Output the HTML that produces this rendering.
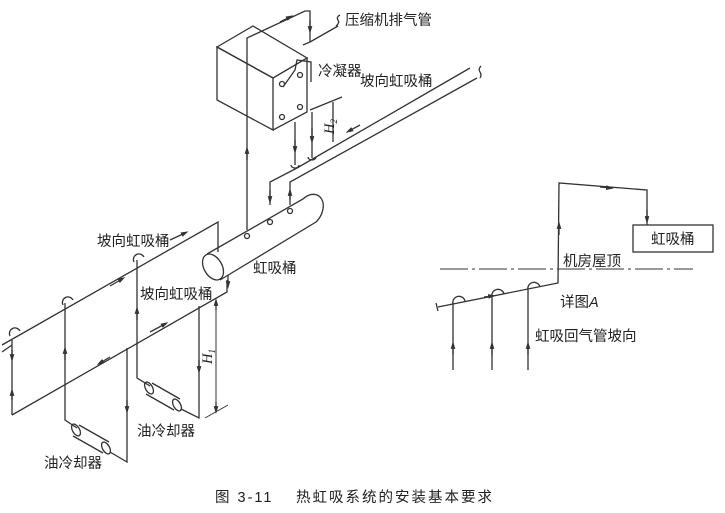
<!DOCTYPE html>
<html><head><meta charset="utf-8"><style>
html,body{margin:0;padding:0;background:#fff;}
svg{display:block;}
text{font-family:"Liberation Sans","Noto Sans CJK SC",sans-serif;font-size:14.5px;fill:#222;}
</style></head><body>
<svg width="725" height="513" viewBox="0 0 725 513" xmlns="http://www.w3.org/2000/svg">
<defs>
<marker id="a" viewBox="0 0 10 10" refX="5" refY="5" markerWidth="6" markerHeight="6" orient="auto"><path d="M0,2 L10,5 L0,8z" fill="#333"/></marker>
</defs>
<g stroke="#333" stroke-width="1.3" fill="none">
<path d="M217,47 L253,26 L307,58 L273,78 Z" fill="#fff"/>
<path d="M217,47 L273,78 L273,130 L217,100 Z"/>
<path d="M273,78 L307,58 L307,112 L273,130"/>
<circle cx="282" cy="84" r="2.5"/><circle cx="300" cy="75" r="2.5"/>
<circle cx="282" cy="117" r="2.5"/><circle cx="300" cy="107" r="2.5"/>
<path d="M283,87 L295,70 L297,60 L311,62 L311,82"/>
<path d="M247,230 L247,38 L305,11 L310,11 L310,42 L303,45"/>
<path d="M247,160 L247,150" marker-end="url(#a)"/>
<path d="M280,22 L290,17" marker-end="url(#a)"/>
<path d="M310,20 L310,30" marker-end="url(#a)"/>
<path d="M310,42 L338,26"/><path d="M336,26 q4,-3 2,-6 q-2,-3 2,-5"/>
<path d="M470,68 L297,168 L270,182 L270,205"/>
<path d="M477,78 L290,182 L290,205"/>
<path d="M270,190 L270,200" marker-end="url(#a)"/>
<path d="M290,200 L290,192" marker-end="url(#a)"/>
<path d="M480,78 q2,-3 0,-6 q-2,-3 1,-6"/>
<path d="M360,125 L349,131" marker-end="url(#a)"/>
<path d="M310,110 L342,97"/>
<path d="M295,122 L295,165"/><path d="M312,112 L312,158"/>
<path d="M295,140 L295,150" marker-end="url(#a)"/>
<path d="M312,128 L312,140" marker-end="url(#a)"/>
<path d="M333,102 L333,142"/>
<path d="M291,165 a4,3 0 0 0 8,0"/><path d="M308,157 a4,3 0 0 0 8,0"/>
<path d="M207,254 L303,199 A10,14 30 0 1 316,222 L220,280" fill="#fff"/>
<ellipse cx="213" cy="267" rx="9" ry="14" transform="rotate(-30 213 267)" fill="#fff"/>
<circle cx="247" cy="236" r="2.5"/><circle cx="270" cy="222" r="2.5"/><circle cx="290" cy="211" r="2.5"/>
<path d="M2,345 L218,222 L218,252"/>
<path d="M2,352 L12,345"/>
<path d="M110,286 L122,279" marker-end="url(#a)"/>
<path d="M170,240 L185,233" marker-end="url(#a)"/>
<path d="M10,336 a5,5 0 0 1 10,-5"/><path d="M63,305 a5,5 0 0 1 10,-5"/><path d="M134,262 a5,5 0 0 1 10,-5"/>
<path d="M12,415 L227,292 L227,280"/>
<path d="M228,275 L228,285" marker-end="url(#a)"/>
<path d="M150,332 L165,324" marker-end="url(#a)"/>
<path d="M110,357 L100,363" marker-end="url(#a)"/>
<path d="M12,415 L12,340"/>
<path d="M12,350 L12,358" marker-end="url(#a)"/>
<path d="M12,400 L12,392" marker-end="url(#a)"/>
<path d="M65,303 L65,420 L77,428"/>
<path d="M65,360 L65,350" marker-end="url(#a)"/>
<path d="M79,425 L109,442 M73,436 L103,453"/>
<ellipse cx="76" cy="430" rx="3.5" ry="6.5" transform="rotate(-30 76 430)"/>
<ellipse cx="106" cy="448" rx="3.5" ry="6.5" transform="rotate(-30 106 448)"/>
<path d="M110,452 L127,462 L127,348"/>
<path d="M127,400 L127,410" marker-end="url(#a)"/>
<path d="M137,260 L137,378 L150,386"/>
<path d="M137,320 L137,310" marker-end="url(#a)"/>
<path d="M152,383 L180,399 M146,394 L174,410"/>
<ellipse cx="149" cy="388" rx="3.5" ry="6.5" transform="rotate(-30 149 388)"/>
<ellipse cx="177" cy="405" rx="3.5" ry="6.5" transform="rotate(-30 177 405)"/>
<path d="M181,409 L199,418 L199,306"/>
<path d="M199,360 L199,370" marker-end="url(#a)"/>
<path d="M216,302 L216,410" stroke-width="1"/>
<path d="M216,310 L216,302" marker-end="url(#a)"/>
<path d="M216,402 L216,410" marker-end="url(#a)"/>
<path d="M205,418 L228,405" stroke-width="1"/>
<path d="M440,269 L693,269" stroke-dasharray="28,4,3,4" stroke-width="1"/>
<path d="M438,307 L558,283 L559,183 L647,190 L647,225"/>
<path d="M436,303 L438,311"/>
<path d="M559,235 L559,225" marker-end="url(#a)"/>
<path d="M600,187 L610,188" marker-end="url(#a)"/>
<path d="M647,210 L647,220" marker-end="url(#a)"/>
<path d="M484,297 L492,296" marker-end="url(#a)"/>
<rect x="633" y="225" width="80" height="27"/>
<path d="M453,370 L453,304 a6,6 0 0 1 12,-3"/>
<path d="M492,370 L492,297 a6,6 0 0 1 12,-3"/>
<path d="M528,370 L528,290 a6,6 0 0 1 12,-3"/>
<path d="M453,355 L453,345" marker-end="url(#a)"/>
<path d="M492,355 L492,345" marker-end="url(#a)"/>
<path d="M528,355 L528,345" marker-end="url(#a)"/>
</g>
<text x="345" y="25">压缩机排气管</text>
<text x="318" y="76">冷凝器</text>
<text x="360" y="86">坡向虹吸桶</text>
<text transform="translate(334,134) rotate(-90)" font-style="italic" style="font-family:'Liberation Serif',serif">H<tspan font-size="9" dy="3">2</tspan></text>
<text x="97" y="246">坡向虹吸桶</text>
<text x="253" y="273">虹吸桶</text>
<text x="140" y="299">坡向虹吸桶</text>
<text transform="translate(212,364) rotate(-90)" font-style="italic" style="font-family:'Liberation Serif',serif">H<tspan font-size="9" dy="3">1</tspan></text>
<text x="137" y="436">油冷却器</text>
<text x="44" y="468">油冷却器</text>
<text x="563" y="266">机房屋顶</text>
<text x="560" y="307">详图<tspan font-style="italic">A</tspan></text>
<text x="535" y="341">虹吸回气管坡向</text>
<text x="651" y="244">虹吸桶</text>
<text x="215" y="502" font-size="14" letter-spacing="2">图 3-11　 热虹吸系统的安装基本要求</text>
</svg>
</body></html>
